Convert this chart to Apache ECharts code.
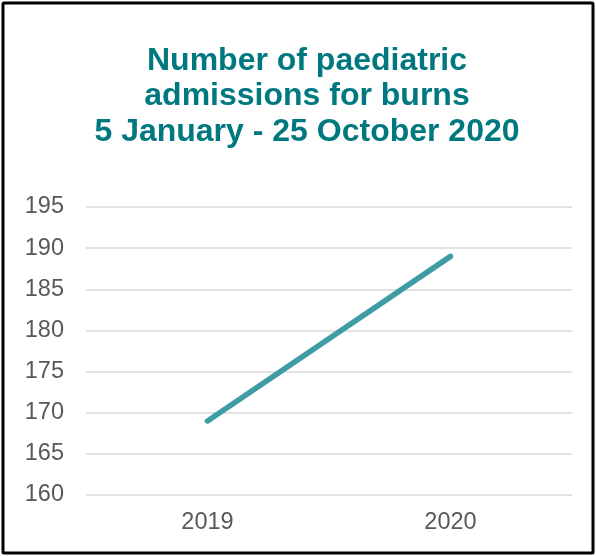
<!DOCTYPE html>
<html>
<head>
<meta charset="utf-8">
<script src="https://cdn.jsdelivr.net/npm/echarts@6/dist/echarts.min.js"></script>
<style>
  html, body { margin: 0; padding: 0; background: #fff; }
  #main { width: 596px; height: 556px; }
</style>
</head>
<body>
<div id="main"></div>
<script>
  var years = ['2019', '2020'];
  var admissions = [169, 189];
  var yTicks = [160, 165, 170, 175, 180, 185, 190, 195];

  var myChart = echarts.init(document.getElementById('main'));
  var option = {
    animation: false,
    title: {
      text: 'Number of paediatric\nadmissions for burns\n5 January - 25 October 2020',
      left: 302,
      top: 38,
      textAlign: 'center',
      textStyle: {
        fontFamily: 'Arial, "Liberation Sans", sans-serif',
        fontSize: 32,
        fontWeight: 'bold',
        color: '#007880',
        lineHeight: 35.5
      }
    },
    graphic: [{
      type: 'rect',
      shape: { x: 3, y: 3, width: 590, height: 550, r: 1 },
      style: { fill: 'none', stroke: '#000', lineWidth: 3 },
      silent: true
    }],
    grid: { left: 86, right: 24, top: 207, bottom: 61 },
    xAxis: {
      type: 'category',
      data: years,
      boundaryGap: true,
      axisLine: { show: false },
      axisTick: { show: false },
      axisLabel: {
        margin: 16,
        fontFamily: 'Arial, "Liberation Sans", sans-serif',
        fontSize: 23.5,
        color: '#595959'
      }
    },
    yAxis: {
      type: 'value',
      min: yTicks[0],
      max: yTicks[yTicks.length - 1],
      interval: 5,
      axisLine: { show: false },
      axisTick: { show: false },
      splitLine: { lineStyle: { color: '#d9d9d9', width: 1.5 } },
      axisLabel: {
        margin: 22,
        fontFamily: 'Arial, "Liberation Sans", sans-serif',
        fontSize: 23.5,
        color: '#595959'
      }
    },
    series: [{
      type: 'line',
      data: admissions,
      symbol: 'none',
      lineStyle: { color: '#3f9ca4', width: 5.5, cap: 'round' }
    }]
  };
  myChart.setOption(option);
</script>
</body>
</html>
